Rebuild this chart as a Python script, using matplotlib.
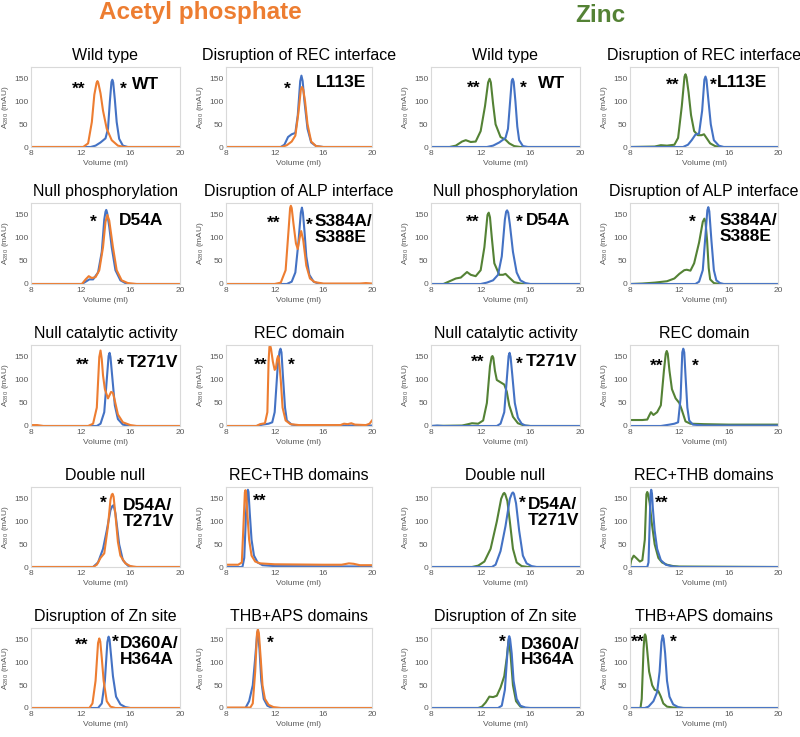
import matplotlib
matplotlib.use("Agg")
import matplotlib.pyplot as plt

plt.rcParams['font.family'] = ['Liberation Sans', 'DejaVu Sans']

BLUE = '#4472C4'
ORANGE = '#ED7D31'
GREEN = '#548235'
GREY = '#595959'

# ============================================================
# DATA (volume in ml, A280 in mAU)
# ============================================================

# ---- Acetyl phosphate ----
ap_wt_blue_x = [8, 12.8, 13.2, 13.6, 14.0, 14.2, 14.35, 14.48, 14.55, 14.62, 14.75, 14.9, 15.1, 15.4, 15.8, 20]
ap_wt_blue_y = [0, 0, 3, 10, 19, 40, 100, 143, 148, 142, 105, 55, 18, 3, 0, 0]
ap_wt_orange_x = [8, 12.2, 12.6, 12.9, 13.1, 13.28, 13.35, 13.42, 13.6, 13.8, 14.1, 14.5, 15.0, 15.5, 20]
ap_wt_orange_y = [0, 0, 8, 55, 115, 141, 145, 141, 118, 80, 40, 15, 3, 0, 0]

ap_l113e_blue_x = [8, 12.5, 12.8, 13.1, 13.4, 13.7, 13.9, 14.1, 14.2, 14.3, 14.45, 14.7, 15.0, 15.4, 16, 20]
ap_l113e_blue_y = [0, 0, 5, 22, 28, 31, 70, 145, 157, 145, 100, 40, 10, 2, 0, 0]
ap_l113e_orange_x = [8, 12.6, 13.0, 13.4, 13.7, 13.95, 14.15, 14.25, 14.35, 14.5, 14.7, 15.0, 15.4, 16, 20]
ap_l113e_orange_y = [0, 0, 4, 12, 25, 75, 126, 132, 126, 100, 50, 12, 2, 0, 0]

ap_d54a_blue_x = [8, 12.1, 12.4, 12.7, 13.0, 13.4, 13.7, 13.9, 14.0, 14.06, 14.13, 14.3, 14.5, 14.8, 15.2, 15.6, 16, 20]
ap_d54a_blue_y = [0, 0, 5, 10, 10, 25, 70, 140, 157, 161, 155, 125, 80, 30, 8, 2, 0, 0]
ap_d54a_orange_x = [8, 12.1, 12.4, 12.65, 12.9, 13.2, 13.5, 13.8, 14.0, 14.15, 14.3, 14.6, 14.9, 15.3, 15.8, 16.5, 20]
ap_d54a_orange_y = [0, 0, 10, 17, 13, 15, 30, 80, 135, 150, 138, 80, 30, 8, 2, 0, 0]

ap_alp_blue_x = [8, 13.0, 13.4, 13.7, 13.95, 14.15, 14.24, 14.32, 14.45, 14.6, 14.85, 15.2, 15.6, 16, 20]
ap_alp_blue_y = [0, 0, 5, 25, 90, 155, 166, 155, 115, 60, 20, 5, 1, 0, 0]
ap_alp_orange_x = [8, 12.0, 12.5, 12.9, 13.15, 13.27, 13.33, 13.4, 13.55, 13.75, 13.9, 14.05, 14.18, 14.35,
                   14.6, 14.9, 15.3, 16, 19, 19.5, 20]
ap_alp_orange_y = [0, 0, 3, 30, 120, 165, 170, 165, 130, 88, 76, 100, 115, 95, 40, 12, 4, 1, 1, 2, 1]

ap_t271v_blue_x = [8, 13.3, 13.6, 13.9, 14.1, 14.25, 14.33, 14.4, 14.55, 14.75, 15.0, 15.4, 16, 20]
ap_t271v_blue_y = [0, 0, 5, 30, 100, 152, 159, 150, 105, 45, 15, 3, 0, 0]
ap_t271v_orange_x = [8, 8.5, 9, 12.6, 13.0, 13.3, 13.5, 13.6, 13.7, 13.8, 13.95, 14.2, 14.45, 14.6, 14.75,
                     15.0, 15.4, 16, 16.5, 20]
ap_t271v_orange_y = [2, 2, 0, 0, 5, 40, 150, 164, 145, 110, 80, 60, 74, 72, 55, 25, 8, 2, 0, 0]

ap_rec_blue_x = [8, 10.5, 11.0, 11.5, 11.8, 12.0, 12.25, 12.4, 12.48, 12.56, 12.7, 12.85, 13.0, 13.4, 14, 20]
ap_rec_blue_y = [0, 0, 3, 5, 8, 30, 130, 162, 168, 160, 100, 40, 12, 3, 1, 1]
ap_rec_orange_x = [8, 10.5, 10.8, 11.2, 11.4, 11.5, 11.57, 11.63, 11.7, 11.85, 12.0, 12.1, 12.2, 12.28, 12.35,
                   12.5, 12.65, 12.9, 13.3, 14, 17.4, 17.7, 18.0, 18.3, 18.6, 19.5, 19.8, 20]
ap_rec_orange_y = [0, 0, 4, 6, 30, 140, 172, 175, 168, 140, 122, 125, 145, 152, 145,
                   100, 40, 12, 4, 2, 2, 5, 4, 6, 3, 2, 5, 12]

ap_dn_blue_x = [8, 13.0, 13.4, 13.8, 14.1, 14.4, 14.55, 14.65, 14.8, 15.1, 15.4, 15.8, 16.2, 20]
ap_dn_blue_y = [0, 0, 10, 40, 80, 125, 134, 136, 118, 50, 15, 3, 0, 0]
ap_dn_orange_x = [8, 13.0, 13.3, 13.6, 13.9, 14.2, 14.4, 14.5, 14.57, 14.65, 14.8, 15.0, 15.2, 15.6, 16, 16.5, 20]
ap_dn_orange_y = [0, 0, 5, 20, 30, 90, 148, 159, 161, 155, 115, 55, 25, 8, 2, 0, 0]

ap_recthb_blue_x = [8, 9.35, 9.5, 9.65, 9.75, 9.8, 9.85, 9.95, 10.1, 10.3, 10.6, 11, 12, 20]
ap_recthb_blue_y = [0, 0, 20, 120, 165, 170, 165, 120, 60, 25, 10, 4, 2, 1]
ap_recthb_orange_x = [8, 9.0, 9.3, 9.45, 9.55, 9.6, 9.65, 9.75, 9.9, 10.1, 10.4, 10.8, 12, 16, 17.5, 18.1, 18.5, 19, 20]
ap_recthb_orange_y = [5, 5, 10, 100, 164, 169, 164, 120, 60, 25, 12, 8, 6, 5, 5, 8, 7, 4, 4]

ap_zn_blue_x = [8, 13.4, 13.7, 13.95, 14.15, 14.25, 14.33, 14.45, 14.6, 14.85, 15.2, 15.6, 16, 20]
ap_zn_blue_y = [0, 0, 10, 60, 145, 157, 150, 115, 70, 25, 8, 2, 0, 0]
ap_zn_orange_x = [8, 12.7, 12.95, 13.2, 13.4, 13.5, 13.58, 13.7, 13.85, 14.1, 14.4, 14.8, 20]
ap_zn_orange_y = [0, 0, 10, 60, 143, 153, 146, 110, 60, 15, 3, 0, 0]

ap_thbaps_blue_x = [8, 9.6, 9.9, 10.2, 10.4, 10.55, 10.62, 10.75, 10.9, 11.1, 11.4, 11.8, 20]
ap_thbaps_blue_y = [0, 0, 15, 50, 110, 160, 170, 130, 60, 20, 5, 0, 0]
ap_thbaps_orange_x = [8, 10.0, 10.2, 10.4, 10.55, 10.62, 10.7, 10.85, 11.0, 11.2, 11.5, 11.9, 12.5, 20]
ap_thbaps_orange_y = [1, 1, 10, 80, 165, 173, 165, 110, 50, 20, 7, 2, 0, 0]

# ---- Zinc ----
zn_wt_green_x = [8, 9.5, 10.0, 10.5, 10.8, 11.2, 11.6, 12.0, 12.35, 12.6, 12.72, 12.82, 13.0, 13.2, 13.6,
                 14.0, 14.3, 14.7, 15.2, 20]
zn_wt_green_y = [0, 0, 3, 12, 15, 11, 12, 35, 90, 142, 150, 142, 95, 50, 22, 16, 8, 2, 0, 0]
zn_wt_blue_x = [8, 12.5, 13.0, 13.5, 14.0, 14.2, 14.4, 14.5, 14.58, 14.66, 14.8, 14.95, 15.1, 15.4, 15.8, 20]
zn_wt_blue_y = [0, 0, 3, 10, 20, 40, 110, 145, 150, 143, 100, 45, 15, 2, 0, 0]

zn_l113e_green_x = [8, 10, 10.5, 11, 11.6, 11.9, 12.2, 12.42, 12.5, 12.58, 12.75, 12.95, 13.2, 13.5, 13.8,
                    14.0, 14.2, 14.5, 14.9, 15.3, 20]
zn_l113e_green_y = [0, 1, 4, 3, 5, 20, 90, 155, 160, 154, 120, 70, 35, 26, 26, 28, 20, 8, 2, 0, 0]
zn_l113e_blue_x = [8, 12.3, 12.7, 13.0, 13.3, 13.6, 13.85, 14.03, 14.12, 14.2, 14.35, 14.55, 14.8, 15.2, 15.6, 20]
zn_l113e_blue_y = [0, 0, 5, 15, 27, 30, 80, 148, 155, 148, 105, 50, 15, 3, 0, 0]

zn_d54a_green_x = [8, 9.0, 9.5, 10.0, 10.4, 10.9, 11.2, 11.6, 12.0, 12.3, 12.55, 12.65, 12.75, 12.9, 13.1,
                   13.5, 13.8, 14.0, 14.3, 14.7, 15.2, 15.6, 20]
zn_d54a_green_y = [0, 0, 6, 12, 14, 26, 20, 17, 30, 80, 150, 155, 145, 100, 45, 20, 20, 22, 14, 4, 1, 0, 0]
zn_d54a_blue_x = [8, 12.0, 12.5, 13.0, 13.4, 13.7, 13.95, 14.05, 14.13, 14.22, 14.35, 14.6, 14.9, 15.2, 15.6, 16, 20]
zn_d54a_blue_y = [0, 0, 3, 8, 20, 60, 140, 157, 160, 155, 130, 70, 25, 8, 2, 0, 0]

zn_alp_green_x = [8, 9, 10, 11, 11.6, 12.0, 12.4, 12.6, 12.9, 13.2, 13.6, 13.9, 14.03, 14.12, 14.25, 14.38,
                  14.5, 14.8, 15.3, 20]
zn_alp_green_y = [0, 1, 3, 6, 12, 22, 30, 31, 29, 45, 90, 135, 142, 135, 95, 35, 10, 2, 0, 0]
zn_alp_blue_x = [8, 13.3, 13.6, 13.9, 14.1, 14.27, 14.35, 14.43, 14.6, 14.8, 15.0, 15.3, 15.6, 20]
zn_alp_blue_y = [0, 0, 5, 30, 100, 160, 167, 158, 95, 30, 8, 2, 0, 0]

zn_t271v_green_x = [8, 10.5, 11.0, 11.3, 11.8, 12.2, 12.5, 12.75, 12.88, 12.95, 13.02, 13.15, 13.3, 13.6,
                    13.9, 14.1, 14.3, 14.6, 15.0, 15.5, 16, 20]
zn_t271v_green_y = [0, 1, 4, 6, 5, 12, 50, 130, 150, 152, 148, 120, 100, 95, 90, 75, 45, 20, 6, 1, 0, 0]
zn_t271v_blue_x = [8, 8.5, 9, 13.3, 13.6, 13.9, 14.1, 14.25, 14.33, 14.41, 14.55, 14.75, 15.0, 15.3, 15.6, 16, 20]
zn_t271v_blue_y = [0, 1, 0, 0, 5, 30, 100, 152, 159, 150, 110, 50, 18, 5, 1, 0, 0]

zn_rec_green_x = [8, 9.0, 9.4, 9.6, 9.7, 9.9, 10.2, 10.5, 10.75, 10.9, 10.98, 11.06, 11.2, 11.4, 11.7,
                  12.0, 12.2, 12.5, 12.9, 14, 16, 20]
zn_rec_green_y = [13, 13, 14, 25, 30, 24, 30, 45, 120, 157, 163, 157, 120, 80, 60, 50, 35, 10, 5, 4, 3, 3]
zn_rec_blue_x = [8, 10.5, 11.2, 11.6, 11.9, 12.1, 12.24, 12.32, 12.4, 12.5, 12.65, 12.8, 13.1, 14, 20]
zn_rec_blue_y = [0, 0, 3, 5, 8, 60, 160, 168, 160, 110, 40, 12, 3, 1, 1]

zn_dn_green_x = [8, 11.3, 11.8, 12.3, 12.8, 13.3, 13.65, 13.82, 13.9, 13.98, 14.15, 14.35, 14.6, 14.9, 15.3, 15.8, 20]
zn_dn_green_y = [0, 0, 3, 12, 40, 100, 150, 161, 163, 160, 145, 100, 40, 10, 2, 0, 0]
zn_dn_blue_x = [8, 12.9, 13.2, 13.6, 14.0, 14.35, 14.52, 14.6, 14.68, 14.85, 15.1, 15.4, 15.7, 16.1, 16.5, 20]
zn_dn_blue_y = [0, 0, 5, 35, 90, 150, 162, 164, 161, 140, 80, 25, 8, 2, 0, 0]

zn_recthb_green_x = [8, 8.1, 8.3, 8.5, 8.8, 9.0, 9.2, 9.33, 9.4, 9.47, 9.6, 9.75, 10.0, 10.3, 10.6, 11.0, 11.5, 12, 20]
zn_recthb_green_y = [0, 15, 25, 20, 12, 15, 60, 160, 165, 160, 140, 100, 50, 20, 10, 5, 2, 1, 0]
zn_recthb_blue_x = [8, 9.4, 9.5, 9.6, 9.66, 9.72, 9.78, 9.85, 10.0, 10.2, 10.5, 10.9, 11.5, 12, 20]
zn_recthb_blue_y = [0, 0, 10, 100, 160, 170, 162, 130, 80, 40, 15, 5, 1, 0, 0]

zn_zn_green_x = [8, 11.8, 12.1, 12.4, 12.7, 13.0, 13.3, 13.6, 13.9, 14.1, 14.25, 14.4, 14.6, 14.85, 15.2, 15.6, 20]
zn_zn_green_y = [0, 0, 3, 12, 25, 24, 27, 45, 70, 110, 150, 120, 50, 15, 3, 0, 0]
zn_zn_blue_x = [8, 13.4, 13.7, 13.95, 14.15, 14.25, 14.3, 14.37, 14.5, 14.65, 14.9, 15.2, 15.6, 16, 20]
zn_zn_blue_y = [0, 0, 5, 40, 120, 152, 158, 152, 120, 60, 20, 5, 1, 0, 0]

zn_thbaps_green_x = [8, 8.85, 8.95, 9.1, 9.17, 9.22, 9.28, 9.35, 9.55, 9.8, 10.0, 10.3, 10.5, 10.7, 11.0, 11.5, 12.5, 20]
zn_thbaps_green_y = [0, 0, 20, 130, 158, 162, 158, 140, 80, 50, 40, 37, 25, 10, 3, 1, 0, 0]
zn_thbaps_blue_x = [8, 9.2, 9.5, 9.9, 10.2, 10.4, 10.55, 10.65, 10.73, 10.85, 11.0, 11.2, 11.5, 11.9, 12.3, 20]
zn_thbaps_blue_y = [0, 0, 3, 15, 35, 80, 145, 160, 152, 120, 60, 25, 8, 2, 0, 0]

titles = ['Wild type', 'Disruption of REC interface',
          'Null phosphorylation', 'Disruption of ALP interface',
          'Null catalytic activity', 'REC domain',
          'Double null', 'REC+THB domains',
          'Disruption of Zn site', 'THB+APS domains']

# ============================================================
# LAYOUT (pixels, top-left origin on an 800x737 canvas)
# ============================================================

W, H = 800, 737
col_px = [(31, 180), (226, 372), (431, 580), (630, 778)]
row_px = [(67, 147), (203, 284), (345, 426), (487, 567), (628, 708)]


def rect(c, r):
    x0, x1 = col_px[c]
    y0, y1 = row_px[r]
    return [x0 / W, 1 - y1 / H, (x1 - x0) / W, (y1 - y0) / H]


# (col, row, title, traces drawn in order, annotations: (x, y, text))
panels = [
    (0, 0, titles[0], [(ap_wt_blue_x, ap_wt_blue_y, BLUE), (ap_wt_orange_x, ap_wt_orange_y, ORANGE)],
     [(11.3, 128, '**'), (15.2, 126, '*'), (16.1, 137, 'WT')]),
    (1, 0, titles[1], [(ap_l113e_blue_x, ap_l113e_blue_y, BLUE), (ap_l113e_orange_x, ap_l113e_orange_y, ORANGE)],
     [(12.8, 127, '*'), (15.4, 141, 'L113E')]),
    (0, 1, titles[2], [(ap_d54a_blue_x, ap_d54a_blue_y, BLUE), (ap_d54a_orange_x, ap_d54a_orange_y, ORANGE)],
     [(12.75, 135, '*'), (15.1, 137, 'D54A')]),
    (1, 1, titles[3], [(ap_alp_blue_x, ap_alp_blue_y, BLUE), (ap_alp_orange_x, ap_alp_orange_y, ORANGE)],
     [(11.35, 133, '**'), (14.6, 127, '*'), (15.3, 119, 'S384A/\nS388E')]),
    (0, 2, titles[4], [(ap_t271v_blue_x, ap_t271v_blue_y, BLUE), (ap_t271v_orange_x, ap_t271v_orange_y, ORANGE)],
     [(11.6, 132, '**'), (14.9, 132, '*'), (15.7, 137, 'T271V')]),
    (1, 2, titles[5], [(ap_rec_blue_x, ap_rec_blue_y, BLUE), (ap_rec_orange_x, ap_rec_orange_y, ORANGE)],
     [(10.3, 133, '**'), (13.1, 133, '*')]),
    (0, 3, titles[6], [(ap_dn_blue_x, ap_dn_blue_y, BLUE), (ap_dn_orange_x, ap_dn_orange_y, ORANGE)],
     [(13.55, 140, '*'), (15.4, 118, 'D54A/\nT271V')]),
    (1, 3, titles[7], [(ap_recthb_blue_x, ap_recthb_blue_y, BLUE), (ap_recthb_orange_x, ap_recthb_orange_y, ORANGE)],
     [(10.2, 145, '**')]),
    (0, 4, titles[8], [(ap_zn_blue_x, ap_zn_blue_y, BLUE), (ap_zn_orange_x, ap_zn_orange_y, ORANGE)],
     [(11.5, 139, '**'), (14.5, 145, '*'), (15.12, 124, 'D360A/\nH364A')]),
    (1, 4, titles[9], [(ap_thbaps_blue_x, ap_thbaps_blue_y, BLUE), (ap_thbaps_orange_x, ap_thbaps_orange_y, ORANGE)],
     [(11.35, 143, '*')]),
    (2, 0, titles[0], [(zn_wt_green_x, zn_wt_green_y, GREEN), (zn_wt_blue_x, zn_wt_blue_y, BLUE)],
     [(10.9, 130, '**'), (15.2, 130, '*'), (16.6, 140, 'WT')]),
    (3, 0, titles[1], [(zn_l113e_green_x, zn_l113e_green_y, GREEN), (zn_l113e_blue_x, zn_l113e_blue_y, BLUE)],
     [(10.9, 136, '**'), (14.45, 136, '*'), (15.05, 141, 'L113E')]),
    (2, 1, titles[2], [(zn_d54a_green_x, zn_d54a_green_y, GREEN), (zn_d54a_blue_x, zn_d54a_blue_y, BLUE)],
     [(10.8, 135, '**'), (14.85, 134, '*'), (15.65, 139, 'D54A')]),
    (3, 1, titles[3], [(zn_alp_green_x, zn_alp_green_y, GREEN), (zn_alp_blue_x, zn_alp_blue_y, BLUE)],
     [(12.8, 134, '*'), (15.3, 120, 'S384A/\nS388E')]),
    (2, 2, titles[4], [(zn_t271v_green_x, zn_t271v_green_y, GREEN), (zn_t271v_blue_x, zn_t271v_blue_y, BLUE)],
     [(11.2, 139, '**'), (14.8, 135, '*'), (15.66, 140, 'T271V')]),
    (3, 2, titles[5], [(zn_rec_green_x, zn_rec_green_y, GREEN), (zn_rec_blue_x, zn_rec_blue_y, BLUE)],
     [(9.65, 130, '**'), (13.05, 130, '*')]),
    (2, 3, titles[6], [(zn_dn_green_x, zn_dn_green_y, GREEN), (zn_dn_blue_x, zn_dn_blue_y, BLUE)],
     [(15.1, 140, '*'), (15.8, 120, 'D54A/\nT271V')]),
    (3, 3, titles[7], [(zn_recthb_green_x, zn_recthb_green_y, GREEN), (zn_recthb_blue_x, zn_recthb_blue_y, BLUE)],
     [(10.05, 141, '**')]),
    (2, 4, titles[8], [(zn_zn_green_x, zn_zn_green_y, GREEN), (zn_zn_blue_x, zn_zn_blue_y, BLUE)],
     [(13.45, 145, '*'), (15.24, 123, 'D360A/\nH364A')]),
    (3, 4, titles[9], [(zn_thbaps_green_x, zn_thbaps_green_y, GREEN), (zn_thbaps_blue_x, zn_thbaps_blue_y, BLUE)],
     [(8.05, 145, '**'), (11.2, 145, '*')]),
]

# ============================================================
# PLOT
# ============================================================

fig = plt.figure(figsize=(W / 100, H / 100), dpi=100)

fig.text(200 / W, 1 - 13 / H, 'Acetyl phosphate', color=ORANGE, fontsize=17.5,
         fontweight='bold', ha='center', va='center')
fig.text(600 / W, 1 - 15 / H, 'Zinc', color=GREEN, fontsize=17.5,
         fontweight='bold', ha='center', va='center')

for c, r, title, traces, notes in panels:
    ax = fig.add_axes(rect(c, r))
    for xs, ys, colour in traces:
        ax.plot(xs, ys, color=colour, lw=1.5, solid_joinstyle='round')
    ax.set_xlim(8, 20)
    ax.set_ylim(0, 176)
    ax.set_xticks([8, 12, 16, 20])
    ax.set_yticks([0, 50, 100, 150])
    ax.tick_params(length=0, labelsize=6, colors=GREY, pad=2)
    for s in ax.spines.values():
        s.set_color('#d9d9d9')
        s.set_linewidth(0.8)
    ax.set_xlabel('Volume (ml)', fontsize=6, color=GREY, labelpad=2)
    ax.set_ylabel(r'A$_{\mathregular{280}}$ (mAU)', fontsize=6, color=GREY, labelpad=2)
    ax.set_title(title, fontsize=11.5, pad=5)
    for x, y, s in notes:
        ax.text(x, y, s, fontsize=12.5, fontweight='bold', ha='left', va='center',
                linespacing=1.05)

plt.savefig('out.png', dpi=100)
